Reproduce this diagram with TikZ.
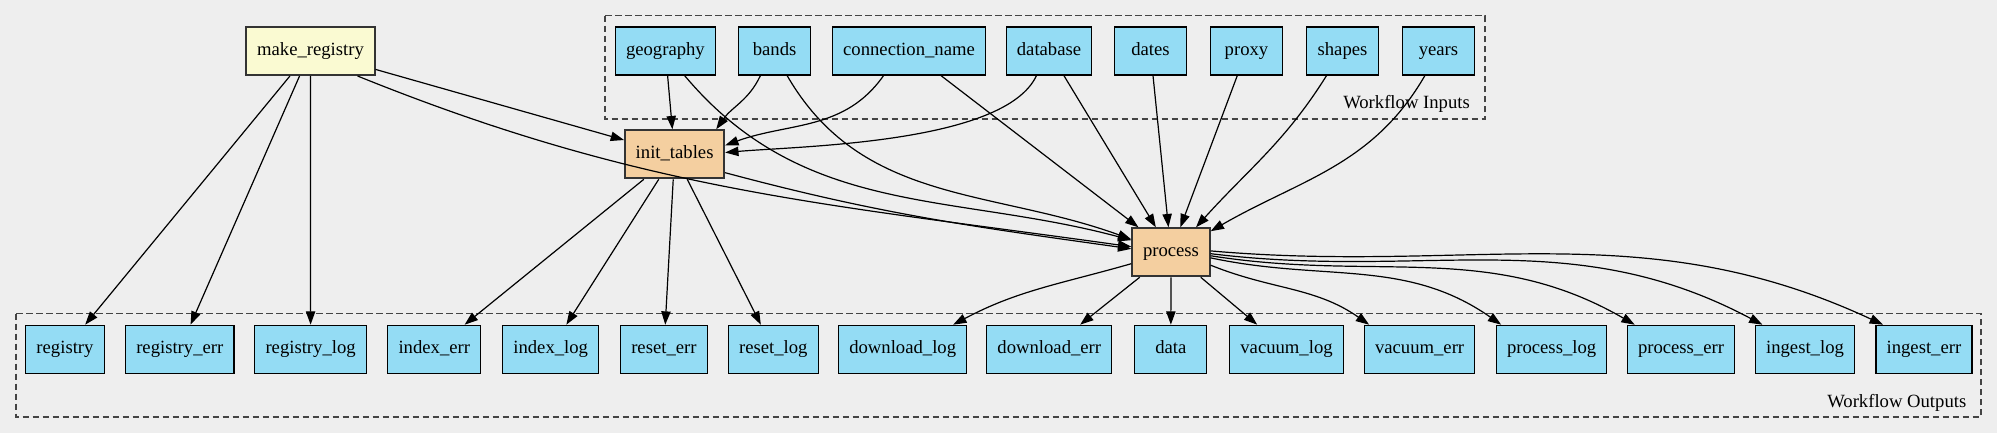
\documentclass[tikz,border=0pt]{standalone}
\usepackage{fontspec}
\setmainfont{Liberation Serif}
\usetikzlibrary{arrows.meta}
\definecolor{bg}{HTML}{EEEEEE}
\definecolor{iofill}{HTML}{94DCF4}
\definecolor{jobfill}{HTML}{F4CFA0}
\definecolor{regfill}{HTML}{FAFAD2}
\definecolor{jobline}{HTML}{333333}
\definecolor{clline}{HTML}{444444}
\tikzset{
  box/.style={rectangle, minimum height=36pt, minimum width=54pt, inner xsep=8pt,
    text height=10pt, text depth=3pt, font=\fontsize{14}{16}\selectfont},
  io/.style={box, draw=black, fill=iofill, line width=0.9pt},
  job/.style={box, draw=jobline, line width=1.5pt},
  edge/.style={-{Triangle[length=10pt,width=7pt]}, line width=0.9pt},
  cluster/.style={draw=clline, dash pattern=on 5pt off 2.5pt, line width=1pt},
}
\begin{document}
\begin{tikzpicture}[x=0.75pt,y=0.75pt]
    % background and clusters
    \fill[bg] (0,0) rectangle (1997,433);
    \useasboundingbox (0,0) rectangle (1997,433);
    \draw[cluster] (605,417.3) rectangle (1485,314);
    \draw[cluster] (16,119.3) rectangle (1981,16);
    \node[anchor=east, font=\fontsize{14}{16}\selectfont] (inlabel) at (1474.5,329) {Workflow Inputs};
    \node[anchor=east, font=\fontsize{14}{16}\selectfont] (outlabel) at (1971,30.3) {Workflow Outputs};
    % draw the jobs
    \node[job, fill=regfill] (makereg) at (310.5,382) {make\_registry};
    \node[job, fill=jobfill] (inittables) at (674.6,278.7) {init\_tables};
    \node[job, fill=jobfill] (process) at (1171,180.7) {process};
    % draw the inputs
    \node[io] (geography) at (665.4,382) {geography};
    \node[io] (bands) at (774.6,382) {bands};
    \node[io] (connection) at (909,382) {connection\_name};
    \node[io] (database) at (1049,382) {database};
    \node[io] (dates) at (1150.5,382) {dates};
    \node[io] (proxy) at (1246.5,382) {proxy};
    \node[io] (shapes) at (1342.5,382) {shapes};
    \node[io] (years) at (1438.5,382) {years};
    % draw the outputs
    \node[io] (registry) at (65,83.7) {registry};
    \node[io] (registryerr) at (179.8,83.7) {registry\_err};
    \node[io] (registrylog) at (310.6,83.7) {registry\_log};
    \node[io] (indexerr) at (434.3,83.7) {index\_err};
    \node[io] (indexlog) at (550.7,83.7) {index\_log};
    \node[io] (reseterr) at (663.9,83.7) {reset\_err};
    \node[io] (resetlog) at (773.3,83.7) {reset\_log};
    \node[io] (downloadlog) at (902.7,83.7) {download\_log};
    \node[io] (downloaderr) at (1049.3,83.7) {download\_err};
    \node[io] (data) at (1170.8,83.7) {data};
    \node[io] (vacuumlog) at (1286.5,83.7) {vacuum\_log};
    \node[io] (vacuumerr) at (1419.6,83.7) {vacuum\_err};
    \node[io] (processlog) at (1551.6,83.7) {process\_log};
    \node[io] (processerr) at (1681,83.7) {process\_err};
    \node[io] (ingestlog) at (1805,83.7) {ingest\_log};
    \node[io] (ingesterr) at (1923.9,83.7) {ingest\_err};
    % draw the edges
    \draw[edge] (makereg) -- (registry);
    \draw[edge] (makereg) -- (registryerr);
    \draw[edge] (makereg) -- (registrylog);
    \draw[edge] (makereg) -- (inittables);
    \draw[edge] (makereg.-28) to[out=-22,in=172] (process.172);
    \draw[edge] (geography) -- (inittables);
    \draw[edge] (geography.-52) to[out=-50,in=165] (process.163);
    \draw[edge] (bands.-120) to[out=-115,in=55] (inittables.31);
    \draw[edge] (bands.-63) to[out=-60,in=160] (process.162);
    \draw[edge] (connection.-136) to[out=-125,in=20] (inittables.10);
    \draw[edge] (connection) -- (process);
    \draw[edge] (database.-117) to[out=-115,in=5,looseness=0.6] (inittables.2);
    \draw[edge] (database) -- (process);
    \draw[edge] (dates) -- (process);
    \draw[edge] (proxy) -- (process);
    \draw[edge] (shapes.-123) to[out=-122,in=48] (process.45);
    \draw[edge] (years.-119) to[out=-120,in=30] (process.28);
    \draw[edge] (inittables) -- (indexerr);
    \draw[edge] (inittables) -- (indexlog);
    \draw[edge] (inittables) -- (reseterr);
    \draw[edge] (inittables) -- (resetlog);
    \draw[edge] (inittables.-20) to[out=-15,in=172] (process.175);
    \draw[edge] (process.-164) to[out=-164,in=28] (downloadlog.26);
    \draw[edge] (process) -- (downloaderr);
    \draw[edge] (process) -- (data);
    \draw[edge] (process) -- (vacuumlog);
    \draw[edge] (process.-18) to[out=-22,in=145] (vacuumerr.154);
    \draw[edge] (process.-8) to[out=-12,in=145] (processlog.154);
    \draw[edge] (process.-5) to[out=-9,in=150] (processerr.152);
    \draw[edge] (process.-2) to[out=-7,in=152] (ingestlog.150);
    \draw[edge] (process.2) to[out=-5,in=155] (ingesterr.149);
\end{tikzpicture}
\end{document}
